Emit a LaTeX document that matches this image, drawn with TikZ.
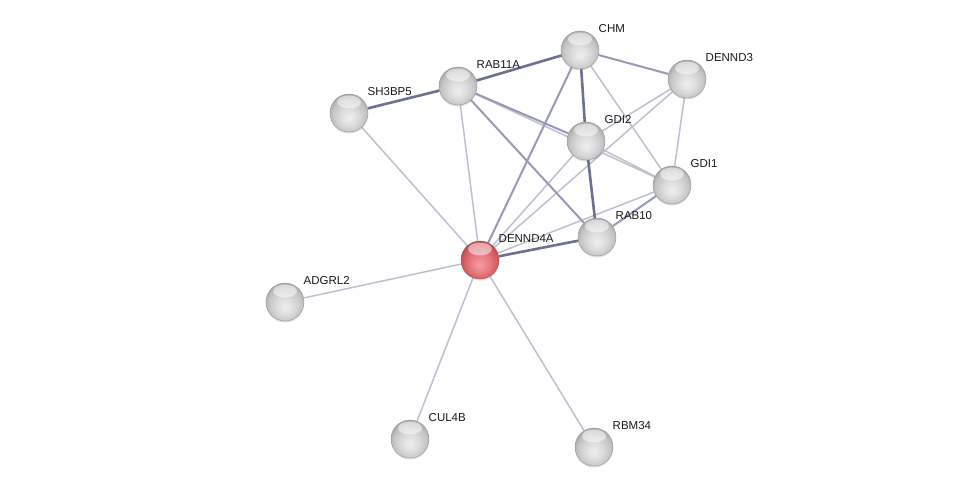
\documentclass[tikz,border=0pt]{standalone}
\usepackage{fontspec}
\setmainfont{Liberation Sans}
\usetikzlibrary{backgrounds,shadows}
\definecolor{edgeweak}{RGB}{190,192,208}
\definecolor{edgemid}{RGB}{150,154,180}
\definecolor{edgestrong}{RGB}{108,113,146}
\definecolor{labeltext}{RGB}{25,25,25}
\definecolor{redA}{RGB}{242,160,164}
\definecolor{redB}{RGB}{230,125,130}
\definecolor{redC}{RGB}{212,92,98}
\definecolor{redD}{RGB}{190,68,74}
\definecolor{redE}{RGB}{140,44,48}
\pgfdeclareradialshading{sphgray}{\pgfpoint{0bp}{-7bp}}{%
  color(0bp)=(white!94!black); color(12bp)=(white!86!black);
  color(22bp)=(white!77!black); color(28bp)=(white!66!black);
  color(32bp)=(white!50!black); color(50bp)=(white!50!black)}
\pgfdeclareradialshading{sphred}{\pgfpoint{0bp}{-7bp}}{%
  color(0bp)=(redA); color(12bp)=(redB);
  color(22bp)=(redC); color(28bp)=(redD);
  color(32bp)=(redE); color(50bp)=(redE)}
\tikzset{
  prot/.style={circle, minimum size=38pt, inner sep=0pt, draw=black!40,
    line width=0.4pt, shading=sphgray,
    drop shadow={opacity=0.25, shadow xshift=0pt, shadow yshift=-1.5pt},
    path picture={\fill[white, opacity=0.5]
      ([yshift=-8pt]path picture bounding box.north) ellipse (12pt and 6.5pt);}},
  query/.style={prot, shading=sphred, draw=redE!80},
  lbl/.style={font=\fontsize{11.5}{13}\selectfont, text=labeltext,
    inner sep=0pt, anchor=base west}
}
\tikzset{
  weak/.style={draw=edgeweak, line width=1.5pt},
  mid/.style={draw=edgemid, line width=2pt},
  strong/.style={draw=edgestrong, line width=2.6pt}
}
\newcommand{\protlabel}[2]{%
  \node[lbl] (#1-lbl) at ([xshift=18.5pt, yshift=17.5pt]#1.center) {#2};}

\begin{document}
\begin{tikzpicture}[x=1pt, y=-1pt]
  \useasboundingbox (0,0) rectangle (976,492);

  % proteins
  \node[prot] (chm) at (580,50) {};
  \node[prot] (dennd3) at (687,79) {};
  \node[prot] (rab11a) at (458,86) {};
  \node[prot] (sh3bp5) at (349,113) {};
  \node[prot] (gdi2) at (586,141) {};
  \node[prot] (gdi1) at (672,185) {};
  \node[prot] (rab10) at (597,237) {};
  \node[query] (dennd4a) at (480,260) {};
  \node[prot] (adgrl2) at (285,302) {};
  \node[prot] (cul4b) at (410,439) {};
  \node[prot] (rbm34) at (594,447) {};

  \protlabel{chm}{CHM}
  \protlabel{dennd3}{DENND3}
  \protlabel{rab11a}{RAB11A}
  \protlabel{sh3bp5}{SH3BP5}
  \protlabel{gdi2}{GDI2}
  \protlabel{gdi1}{GDI1}
  \protlabel{rab10}{RAB10}
  \protlabel{dennd4a}{DENND4A}
  \protlabel{adgrl2}{ADGRL2}
  \protlabel{cul4b}{CUL4B}
  \protlabel{rbm34}{RBM34}

  % interactions
  \begin{scope}[on background layer]
    \fill[white] (0,0) rectangle (976,492);
    \foreach \a/\b in {sh3bp5/dennd4a, rab11a/dennd4a, rab11a/gdi1,
        chm/gdi1, dennd3/gdi2, dennd3/dennd4a, dennd3/gdi1, gdi2/gdi1,
        gdi2/dennd4a, gdi1/dennd4a, dennd4a/adgrl2, dennd4a/cul4b,
        dennd4a/rbm34}
      \draw[weak] (\a) -- (\b);
    \foreach \a/\b in {rab11a/gdi2, rab11a/rab10, chm/dennd4a, gdi1/rab10,
        chm/dennd3}
      \draw[mid] (\a) -- (\b);
    \foreach \a/\b in {sh3bp5/rab11a, rab11a/chm, chm/gdi2, gdi2/rab10,
        rab10/dennd4a}
      \draw[strong] (\a) -- (\b);
  \end{scope}
\end{tikzpicture}
\end{document}
